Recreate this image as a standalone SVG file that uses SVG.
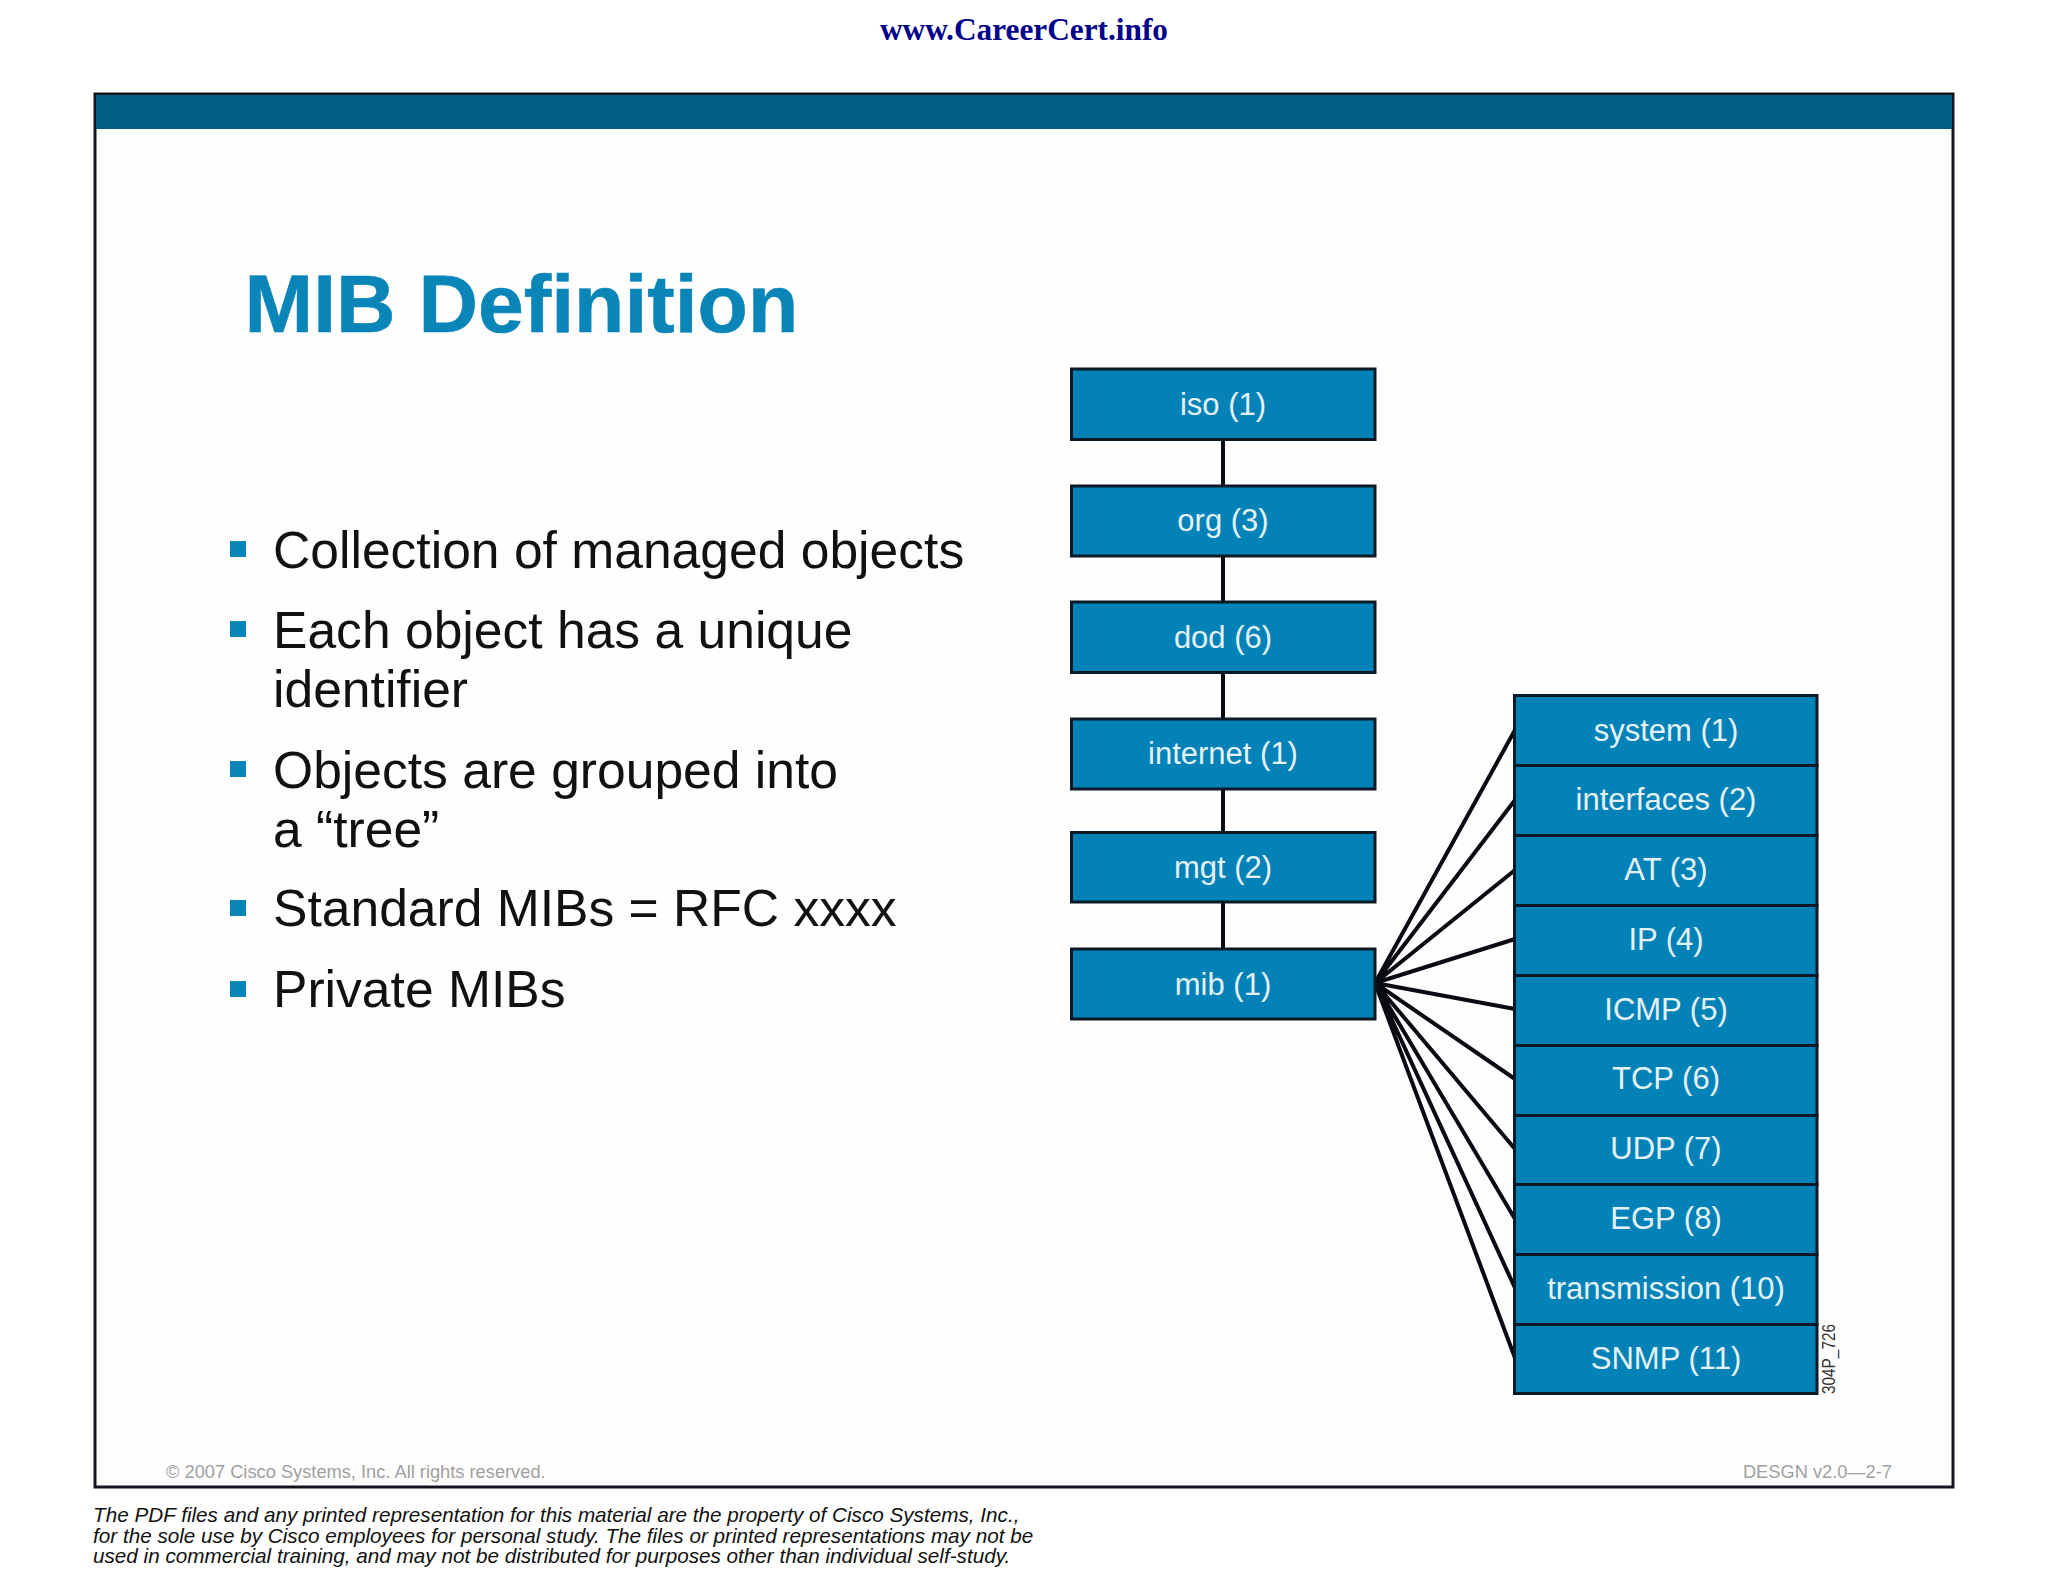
<svg xmlns="http://www.w3.org/2000/svg" width="2048" height="1582" viewBox="0 0 2048 1582">
<style>
text{font-family:"Liberation Sans",Arial,sans-serif}
.box{fill:#0282b6;stroke:#0b1a26;stroke-width:3}
.lbl{font-size:31px;fill:#e4f2f8;text-anchor:middle}
.con{stroke:#0a0a12;stroke-width:4;fill:none}
.bul{font-size:51.6px;fill:#111}
.sq{fill:#0a85b8}
.foot{font-size:18.25px;fill:#a0a0a0}
.legal{font-size:20.7px;font-style:italic;fill:#111}
</style>
<rect width="2048" height="1582" fill="#fff"/>
<text x="1024" y="40" font-size="31.3" font-weight="bold" text-anchor="middle" style="font-family:'Liberation Serif',serif" fill="#00008b">www.CareerCert.info</text>
<g id="frame">
<rect x="95" y="94" width="1858" height="1393" fill="#fefefe" stroke="#14141e" stroke-width="3"/>
<rect x="96" y="95" width="1856" height="34" fill="#006086"/>
</g>
<text id="title" x="244.5" y="332" font-size="82.4" font-weight="bold" fill="#0a85b8" stroke="#0a85b8" stroke-width="0.6">MIB Definition</text>
<g id="bullets">
<rect class="sq" x="230" y="541" width="16" height="16"/>
<rect class="sq" x="230" y="621" width="16" height="16"/>
<rect class="sq" x="230" y="761" width="16" height="16"/>
<rect class="sq" x="230" y="900" width="16" height="16"/>
<rect class="sq" x="230" y="981" width="16" height="16"/>
<text class="bul" x="273" y="568">Collection of managed objects</text>
<text class="bul" x="273" y="648">Each object has a unique</text>
<text class="bul" x="273" y="707">identifier</text>
<text class="bul" x="273" y="788">Objects are grouped into</text>
<text class="bul" x="273" y="846.5">a “tree”</text>
<text class="bul" x="273" y="926">Standard MIBs = RFC xxxx</text>
<text class="bul" x="273" y="1007">Private MIBs</text>
</g>
<g id="connectors" class="con">
<path d="M1223 440V486M1223 556V602M1223 673V719M1223 789V833M1223 902V949"/>
<path d="M1375 983L1515 730M1375 983L1515 800M1375 983L1515 870M1375 983L1515 939M1375 983L1515 1009M1375 983L1515 1079M1375 983L1515 1149M1375 983L1515 1219M1375 983L1515 1288M1375 983L1515 1358"/>
</g>
<g id="node-iso"><rect class="box" x="1071.5" y="369" width="303.5" height="70.5"/><text class="lbl" x="1223" y="415">iso (1)</text></g>
<g id="node-org"><rect class="box" x="1071.5" y="486" width="303.5" height="70"/><text class="lbl" x="1223" y="531">org (3)</text></g>
<g id="node-dod"><rect class="box" x="1071.5" y="602" width="303.5" height="70.5"/><text class="lbl" x="1223" y="648">dod (6)</text></g>
<g id="node-internet"><rect class="box" x="1071.5" y="719" width="303.5" height="70"/><text class="lbl" x="1223" y="764">internet (1)</text></g>
<g id="node-mgt"><rect class="box" x="1071.5" y="832.5" width="303.5" height="69.5"/><text class="lbl" x="1223" y="878">mgt (2)</text></g>
<g id="node-mib"><rect class="box" x="1071.5" y="949" width="303.5" height="70"/><text class="lbl" x="1223" y="994.5">mib (1)</text></g>
<g id="node-system"><rect class="box" x="1514.5" y="695.5" width="302.5" height="70"/><text class="lbl" x="1666" y="741">system (1)</text></g>
<g id="node-interfaces"><rect class="box" x="1514.5" y="765.5" width="302.5" height="70"/><text class="lbl" x="1666" y="810">interfaces (2)</text></g>
<g id="node-at"><rect class="box" x="1514.5" y="835.5" width="302.5" height="70"/><text class="lbl" x="1666" y="880">AT (3)</text></g>
<g id="node-ip"><rect class="box" x="1514.5" y="905.5" width="302.5" height="70"/><text class="lbl" x="1666" y="950">IP (4)</text></g>
<g id="node-icmp"><rect class="box" x="1514.5" y="975.5" width="302.5" height="70"/><text class="lbl" x="1666" y="1020">ICMP (5)</text></g>
<g id="node-tcp"><rect class="box" x="1514.5" y="1045.5" width="302.5" height="70"/><text class="lbl" x="1666" y="1089">TCP (6)</text></g>
<g id="node-udp"><rect class="box" x="1514.5" y="1115.5" width="302.5" height="69"/><text class="lbl" x="1666" y="1159">UDP (7)</text></g>
<g id="node-egp"><rect class="box" x="1514.5" y="1184.5" width="302.5" height="70"/><text class="lbl" x="1666" y="1229">EGP (8)</text></g>
<g id="node-transmission"><rect class="box" x="1514.5" y="1254.5" width="302.5" height="70"/><text class="lbl" x="1666" y="1299">transmission (10)</text></g>
<g id="node-snmp"><rect class="box" x="1514.5" y="1324.5" width="302.5" height="69"/><text class="lbl" x="1666" y="1369">SNMP (11)</text></g>
<text transform="translate(1835 1394) rotate(-90)" font-size="18.5" textLength="70" lengthAdjust="spacingAndGlyphs" fill="#333">304P_726</text>
<text class="foot" x="166" y="1477.5">© 2007 Cisco Systems, Inc. All rights reserved.</text>
<text class="foot" x="1892" y="1477.5" text-anchor="end">DESGN v2.0—2-7</text>
<g id="legal">
<text class="legal" x="93" y="1522">The PDF files and any printed representation for this material are the property of Cisco Systems, Inc.,</text>
<text class="legal" x="93" y="1543">for the sole use by Cisco employees for personal study. The files or printed representations may not be</text>
<text class="legal" x="93" y="1563">used in commercial training, and may not be distributed for purposes other than individual self-study.</text>
</g>
</svg>
